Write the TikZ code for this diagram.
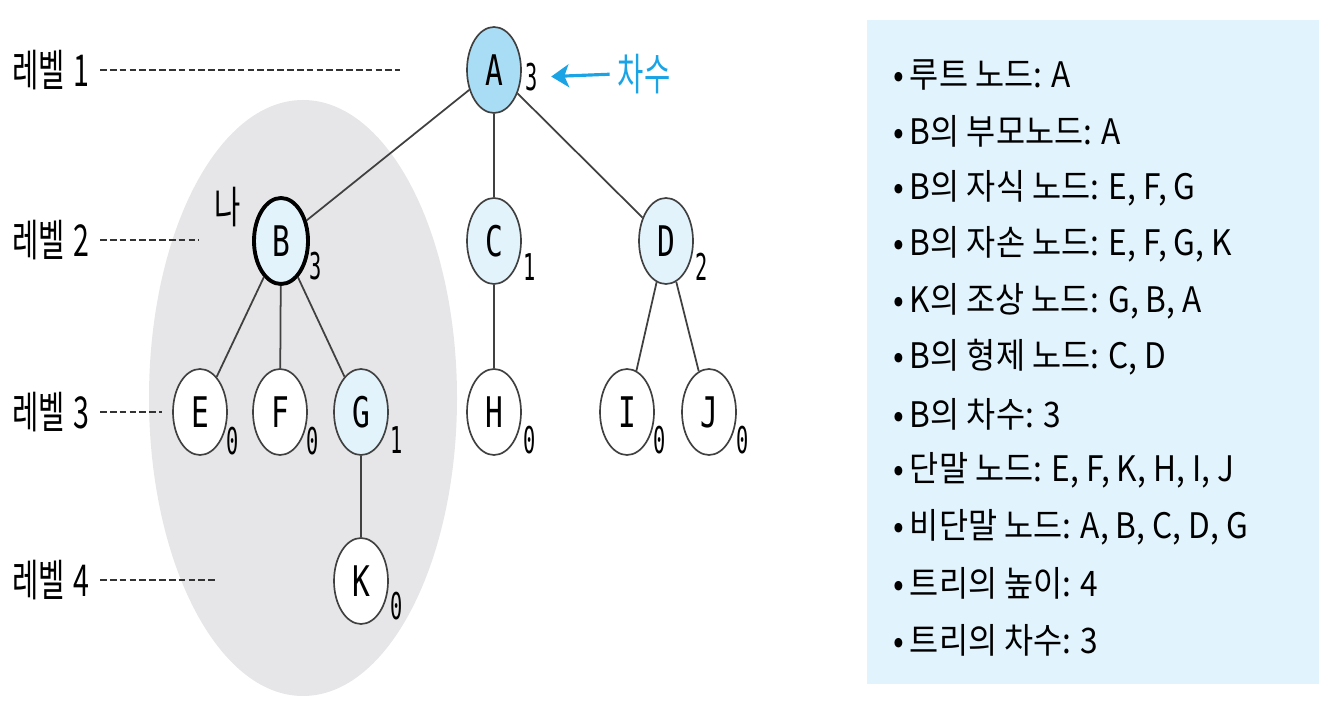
\documentclass[tikz,border=0pt]{standalone}
\usepackage{fontspec}
\setmainfont{Noto Sans CJK KR}
\newfontfamily\narrowkr[FakeStretch=0.65]{Noto Sans CJK KR}
\newfontfamily\listkr[FakeStretch=0.9]{Noto Sans CJK KR}
\newfontfamily\nodemono[FakeStretch=0.7]{DejaVu Sans Mono}
\newfontfamily\degmono[FakeStretch=0.55]{DejaVu Sans Mono}
\usepackage{xcolor}
\usepackage{tikz}
\usetikzlibrary{arrows.meta, positioning, shapes.geometric}

\definecolor{rootblue}{HTML}{A9DDF5}
\definecolor{paleblue}{HTML}{E2F3FC}
\definecolor{boxblue}{HTML}{E1F3FC}
\definecolor{shadegray}{HTML}{E6E6E8}
\definecolor{degblue}{HTML}{1AA4E6}
\definecolor{edgegray}{HTML}{404040}

\begin{document}
\begin{tikzpicture}[
    tnode/.style={ellipse, draw=edgegray, line width=0.95pt, fill=white,
      minimum width=1.08cm, minimum height=1.72cm, inner sep=0pt,
      font=\nodemono\fontsize{24}{24}\selectfont},
    deg/.style={inner sep=1pt, font=\degmono\fontsize{21}{21}\selectfont},
    lvl/.style={anchor=east, inner sep=0.2cm, font=\narrowkr\fontsize{25}{25}\selectfont},
    lvline/.style={draw=black!80, line width=1.6pt, dash pattern=on 3.8pt off 1.8pt},
    edge/.style={draw=edgegray, line width=1pt},
    item/.style={anchor=west, inner sep=0pt, font=\listkr\fontsize{20}{20}\selectfont},
    >=Stealth
  ]
  \useasboundingbox (0,0) rectangle (26.54,14.26);

  % ── background shapes ──────────────────────────────────────────────
  \fill[shadegray] (6.06,6.30) ellipse (3.08cm and 5.96cm);
  \fill[boxblue] (17.34,0.58) rectangle (26.38,13.86);

  % ── level marks ────────────────────────────────────────────────────
  \node[lvl] (lv1) at (2.0,12.86) {레벨\hspace{0.18cm}1};
  \node[lvl] (lv2) at (2.0, 9.46) {레벨\hspace{0.18cm}2};
  \node[lvl] (lv3) at (2.0, 6.02) {레벨\hspace{0.18cm}3};
  \node[lvl] (lv4) at (2.0, 2.66) {레벨\hspace{0.18cm}4};
  \coordinate (lv1end) at (8.00,12.86);
  \coordinate (lv2end) at (3.98, 9.46);
  \coordinate (lv3end) at (3.24, 6.02);
  \coordinate (lv4end) at (4.34, 2.66);
  \draw[lvline] (lv1.east) -- (lv1end);
  \draw[lvline] (lv2.east) -- (lv2end);
  \draw[lvline] (lv3.east) -- (lv3end);
  \draw[lvline] (lv4.east) -- (lv4end);

  % ── tree ───────────────────────────────────────────────────────────
  \node[tnode, fill=rootblue] (A) at (9.88,12.86) {A};

  \node[tnode, fill=paleblue, draw=black, line width=2.2pt] (B) at (5.62,9.44) {B};
  \node[tnode, fill=paleblue] (C) at ( 9.88,9.44) {C};
  \node[tnode, fill=paleblue] (D) at (13.32,9.44) {D};

  \node[tnode] (E) at ( 4.00,6.02) {E};
  \node[tnode] (F) at ( 5.60,6.02) {F};
  \node[tnode, fill=paleblue] (G) at ( 7.22,6.02) {G};
  \node[tnode] (H) at ( 9.88,6.02) {H};
  \node[tnode] (I) at (12.54,6.02) {I};
  \node[tnode] (J) at (14.18,6.02) {J};

  \node[tnode] (K) at (7.22,2.64) {K};

  \draw[edge] (A) -- (B);
  \draw[edge] (A) -- (C);
  \draw[edge] (A) -- (D);
  \draw[edge] (B) -- (E);
  \draw[edge] (B) -- (F);
  \draw[edge] (B) -- (G);
  \draw[edge] (C) -- (H);
  \draw[edge] (D) -- (I);
  \draw[edge] (D) -- (J);
  \draw[edge] (G) -- (K);

  % degrees
  \node[deg] (dA) at ([shift={(0.76,-0.14)}]A) {3};
  \node[deg] (dB) at ([shift={(0.70,-0.50)}]B) {3};
  \node[deg] (dC) at ([shift={(0.72,-0.52)}]C) {1};
  \node[deg] (dD) at ([shift={(0.72,-0.52)}]D) {2};
  \node[deg] (dE) at ([shift={(0.66,-0.58)}]E) {0};
  \node[deg] (dF) at ([shift={(0.66,-0.58)}]F) {0};
  \node[deg] (dG) at ([shift={(0.72,-0.56)}]G) {1};
  \node[deg] (dH) at ([shift={(0.72,-0.56)}]H) {0};
  \node[deg] (dI) at ([shift={(0.66,-0.56)}]I) {0};
  \node[deg] (dJ) at ([shift={(0.68,-0.56)}]J) {0};
  \node[deg] (dK) at ([shift={(0.72,-0.50)}]K) {0};

  \node[font=\narrowkr\fontsize{25}{25}\selectfont] (na) at (4.56,10.12) {나};

  \node[text=degblue, inner sep=1pt, font=\narrowkr\fontsize{25}{25}\selectfont]
    (chasu) at (12.88,12.78) {차수};
  \draw[->, degblue, line width=1.8pt, arrows={-Stealth[length=10pt, width=13pt, inset=2.5pt]},
    shorten <=0.12cm, shorten >=0.22cm] (chasu.west) -- (dA.east);

  % ── terms ──────────────────────────────────────────────────────────
  \foreach \txt [count=\i] in {{루트 노드: A}, {B의 부모노드: A},
      {B의 자식 노드: E, F, G}, {B의 자손 노드: E, F, G, K},
      {K의 조상 노드: G, B, A}, {B의 형제 노드: C, D}, {B의 차수: 3},
      {단말 노드: E, F, K, H, I, J}, {비단말 노드: A, B, C, D, G},
      {트리의 높이: 4}, {트리의 차수: 3}}
    \node[item] (term\i) at (17.86,{12.76-(\i-1)*1.13}) {•\,\txt};

\end{tikzpicture}
\end{document}
